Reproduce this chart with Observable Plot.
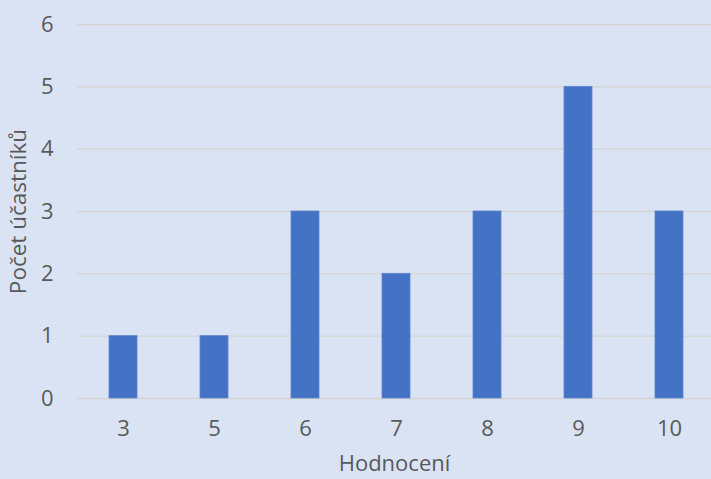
<!DOCTYPE html>
<html>
<head>
<meta charset="utf-8">
<script src="https://cdn.jsdelivr.net/npm/d3@7"></script>
<script src="https://cdn.jsdelivr.net/npm/@observablehq/plot@0.6"></script>
<style>
  html, body { margin: 0; padding: 0; background: #DAE3F3; }
  #chart svg { display: block; }
</style>
</head>
<body>
<div id="chart"></div>
<script>
const categories = ["3", "5", "6", "7", "8", "9", "10"];
const counts = [1, 1, 3, 2, 3, 5, 3];
const yTicks = [0, 1, 2, 3, 4, 5, 6];
const xTitle = "Hodnocení";
const yTitle = "Počet účastníků";

const data = categories.map((c, i) => ({category: c, count: counts[i]}));

const chart = Plot.plot({
  width: 711,
  height: 479,
  marginTop: 24,
  marginBottom: 81,
  marginLeft: 77,
  marginRight: 0,
  style: {background: "#DAE3F3", fontFamily: "'Open Sans', sans-serif", fontSize: "22px", color: "#595959"},
  x: {domain: categories, range: [77, 716], paddingInner: 0.69, paddingOuter: 0.345, label: null},
  y: {domain: [0, 6], label: null},
  marks: [
    Plot.ruleY(yTicks, {stroke: "#D4D4D4", strokeWidth: 1.3}),
    Plot.barY(data, {x: "category", y: "count", fill: "#4472C4", stroke: "#5B85CF", strokeWidth: 0.8}),
    Plot.axisX({tickSize: 0, tickPadding: 22, fontSize: 22, fill: "#595959", label: null}),
    Plot.axisY({ticks: yTicks, tickSize: 0, tickPadding: 24, fontSize: 22, fill: "#595959", label: null, tickFormat: d => String(d)}),
    Plot.text([xTitle], {frameAnchor: "bottom", dy: 65, textAnchor: "middle", lineAnchor: "middle", fontSize: 22, fill: "#595959"}),
    Plot.text([yTitle], {frameAnchor: "left", dx: -59, rotate: -90, textAnchor: "middle", lineAnchor: "middle", fontSize: 22.5, fill: "#595959"})
  ]
});
document.getElementById("chart").appendChild(chart);
</script>
</body>
</html>
